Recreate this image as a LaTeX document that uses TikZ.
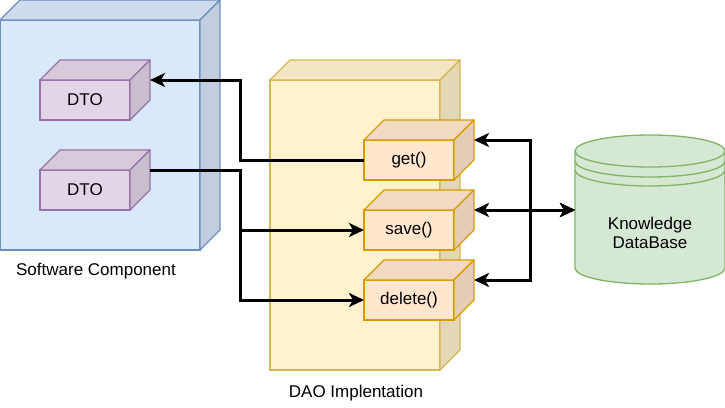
\documentclass[tikz,border=0pt]{standalone}
\usepackage{fontspec}
\setmainfont{Liberation Sans}
\usepackage{xcolor}
\usetikzlibrary{arrows.meta,positioning,calc}
\definecolor{scfill}{HTML}{DAE8FC}
\definecolor{scdraw}{HTML}{6C8EBF}
\definecolor{dtofill}{HTML}{E1D5E7}
\definecolor{dtodraw}{HTML}{9673A6}
\definecolor{daofill}{HTML}{FFF2CC}
\definecolor{daodraw}{HTML}{D6B656}
\definecolor{opfill}{HTML}{FFE6CC}
\definecolor{opdraw}{HTML}{D79B00}
\definecolor{dbfill}{HTML}{D5E8D4}
\definecolor{dbdraw}{HTML}{82B366}

% top and side faces of a cube drawn behind a front-face node
\newcommand{\cubefaces}[3]{%
  \filldraw[fill=#2!95!black, draw=#3, line width=1.3pt, line join=round]
    (#1.north west) -- ++(20,-20) -- ($(#1.north east)+(20,-20)$) -- (#1.north east) -- cycle;
  \filldraw[fill=#2!89!black, draw=#3, line width=1.3pt, line join=round]
    (#1.north east) -- ++(20,-20) -- ($(#1.south east)+(20,-20)$) -- (#1.south east) -- cycle;
}

\begin{document}
\begin{tikzpicture}[x=1pt, y=-1pt,
    face/.style={draw, line width=1.3pt, inner sep=0pt, outer sep=0pt,
                 font=\fontsize{17}{20}\selectfont},
    dto/.style={face, fill=dtofill, draw=dtodraw, minimum width=90pt, minimum height=40pt},
    op/.style={face, fill=opfill, draw=opdraw, minimum width=90pt, minimum height=40pt},
    lbl/.style={font=\fontsize{17}{20}\selectfont, anchor=base},
    flow/.style={line width=3pt, {Stealth[length=15pt, width=14pt, inset=4pt]}-},
    flowboth/.style={line width=3pt, {Stealth[length=15pt, width=14pt, inset=4pt]}-{Stealth[length=15pt, width=14pt, inset=4pt]}}]
    \useasboundingbox (0,0) rectangle (725,407);

    % Software component
    \node[face, fill=scfill, draw=scdraw, minimum width=200pt, minimum height=230pt] (sc) at (100,135) {};
    \cubefaces{sc}{scfill}{scdraw}
    \node[lbl] (sclabel) at (96,275) {Software Component};

    % DTOs
    \node[dto] (dto1) at (85,100) {DTO};
    \cubefaces{dto1}{dtofill}{dtodraw}
    \node[dto] (dto2) at (85,190) {DTO};
    \cubefaces{dto2}{dtofill}{dtodraw}

    % DAO implementation
    \node[face, fill=daofill, draw=daodraw, minimum width=170pt, minimum height=290pt] (dao) at (355,225) {};
    \cubefaces{dao}{daofill}{daodraw}
    \node[lbl] (daolabel) at (356,397) {DAO Implentation};

    % Operations
    \node[op] (get) at (409,160) {get()};
    \node[op] (save) at (409,230) {save()};
    \node[op] (delete) at (409,300) {delete()};
    \foreach \n in {get,save,delete} {
        \cubefaces{\n}{opfill}{opdraw}
    }

    % Knowledge database
    \filldraw[fill=dbfill, draw=dbdraw, line width=1.3pt]
        (575,151) -- (575,268) arc[start angle=180, end angle=0, x radius=75, y radius=16]
        -- (725,151) arc[start angle=0, end angle=-180, x radius=75, y radius=16] -- cycle;
    \foreach \y in {151,161,170} {
        \draw[dbdraw, line width=1.3pt] (575,\y) arc[start angle=180, end angle=0, x radius=75, y radius=16];
    }
    \node[font=\fontsize{17}{19}\selectfont, align=center] (db) at (650,233) {Knowledge\\DataBase};
    \coordinate (db-w) at (575,210);

    % connection points on the back faces
    \foreach \n in {dto1,dto2,get,save,delete} {
        \coordinate (\n-r) at ($(\n.east)+(20,-20)$);
    }

    % Connectors
    \draw[flow] (dto1-r) -| ($(dto1-r)+(90,0)$) |- (get.west);
    \draw[flow] (save.west) -| ($(dto2-r)+(90,0)$) -- (dto2-r);
    \draw[flow] (delete.west) -| ($(dto2-r)+(90,0)$) -- (dto2-r);
    \draw[flowboth] (get-r) -| ($(db-w)+(-45,0)$) -- (db-w);
    \draw[flowboth] (save-r) -- (db-w);
    \draw[flowboth] (delete-r) -| ($(db-w)+(-45,0)$) -- (db-w);
\end{tikzpicture}
\end{document}
